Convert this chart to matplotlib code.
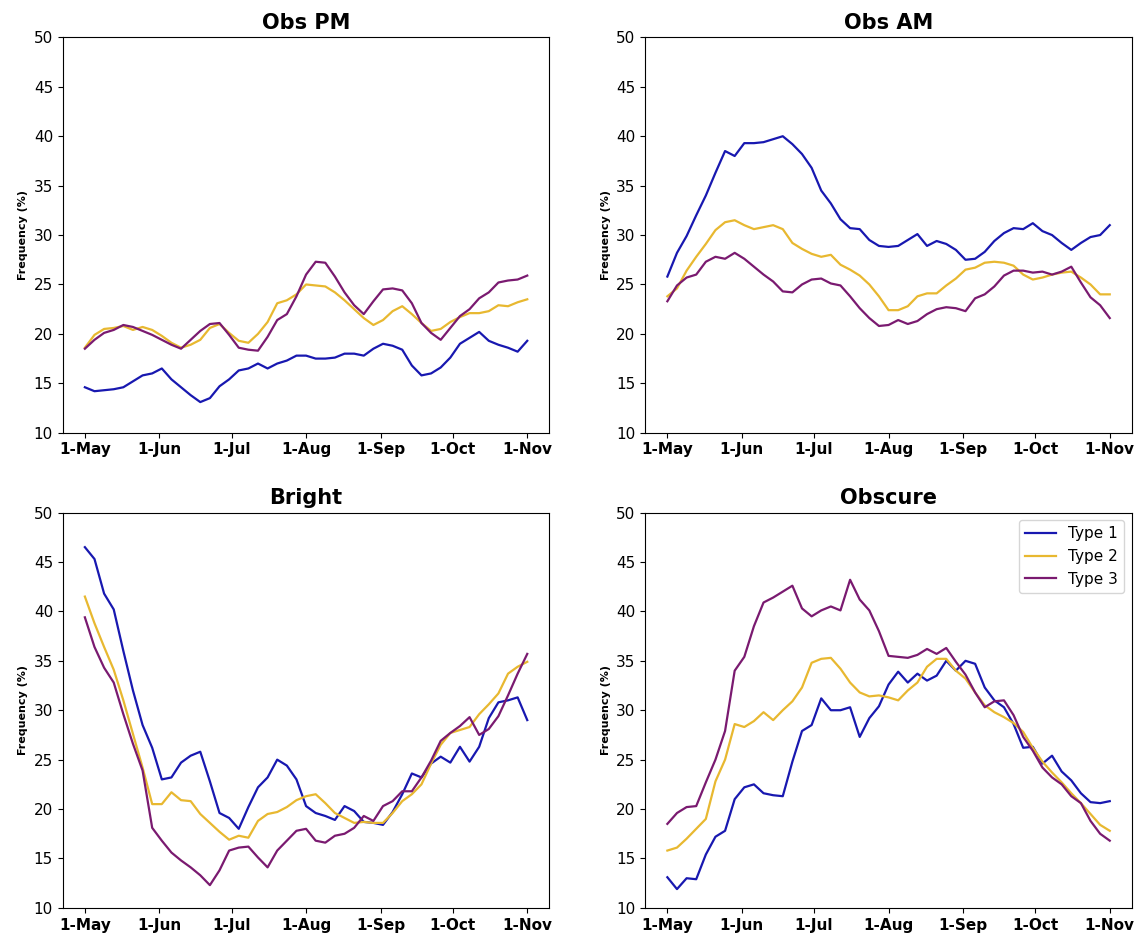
import numpy as np
import matplotlib
matplotlib.use("Agg")
import matplotlib.pyplot as plt

# days since 1 May, sampled every 4 days
days = np.arange(0, 185, 4)

tick_days = [0, 31, 61, 92, 123, 153, 184]
tick_labels = ["1-May", "1-Jun", "1-Jul", "1-Aug", "1-Sep", "1-Oct", "1-Nov"]

# --- Obs PM ---
obs_pm_t1 = [14.6, 14.2, 14.3, 14.4, 14.6, 15.2, 15.8, 16.0, 16.5, 15.4, 14.6, 13.8,
             13.1, 13.5, 14.7, 15.4, 16.3, 16.5, 17.0, 16.5, 17.0, 17.3, 17.8, 17.8,
             17.5, 17.5, 17.6, 18.0, 18.0, 17.8, 18.5, 19.0, 18.8, 18.4, 16.8, 15.8,
             16.0, 16.6, 17.6, 19.0, 19.6, 20.2, 19.3, 18.9, 18.6, 18.2, 19.3]
obs_pm_t2 = [18.6, 19.9, 20.5, 20.6, 20.8, 20.4, 20.7, 20.4, 19.8, 19.1, 18.6, 18.9,
             19.4, 20.6, 21.0, 20.1, 19.3, 19.1, 20.0, 21.2, 23.1, 23.4, 24.0, 25.0,
             24.9, 24.8, 24.2, 23.4, 22.5, 21.6, 20.9, 21.4, 22.3, 22.8, 22.0, 21.1,
             20.3, 20.5, 21.2, 21.7, 22.1, 22.1, 22.3, 22.9, 22.8, 23.2, 23.5]
obs_pm_t3 = [18.5, 19.4, 20.1, 20.4, 20.9, 20.7, 20.3, 19.9, 19.4, 18.9, 18.5, 19.4,
             20.3, 21.0, 21.1, 19.9, 18.6, 18.4, 18.3, 19.7, 21.4, 22.0, 23.8, 26.0,
             27.3, 27.2, 25.8, 24.2, 22.9, 22.0, 23.3, 24.5, 24.6, 24.4, 23.1, 21.1,
             20.1, 19.4, 20.6, 21.8, 22.5, 23.6, 24.2, 25.2, 25.4, 25.5, 25.9]

# --- Obs AM ---
obs_am_t1 = [25.8, 28.2, 29.9, 32.0, 34.0, 36.3, 38.5, 38.0, 39.3, 39.3, 39.4, 39.7,
             40.0, 39.2, 38.2, 36.8, 34.5, 33.2, 31.6, 30.7, 30.6, 29.5, 28.9, 28.8,
             28.9, 29.5, 30.1, 28.9, 29.4, 29.1, 28.5, 27.5, 27.6, 28.3, 29.4, 30.2,
             30.7, 30.6, 31.2, 30.4, 30.0, 29.2, 28.5, 29.2, 29.8, 30.0, 31.0]
obs_am_t2 = [23.8, 24.6, 26.4, 27.8, 29.1, 30.5, 31.3, 31.5, 31.0, 30.6, 30.8, 31.0,
             30.6, 29.2, 28.6, 28.1, 27.8, 28.0, 27.0, 26.5, 25.9, 25.0, 23.8, 22.4,
             22.4, 22.8, 23.8, 24.1, 24.1, 24.9, 25.6, 26.5, 26.7, 27.2, 27.3, 27.2,
             26.9, 26.0, 25.5, 25.7, 26.0, 26.2, 26.3, 25.7, 25.0, 24.0, 24.0]
obs_am_t3 = [23.3, 24.9, 25.7, 26.0, 27.3, 27.8, 27.6, 28.2, 27.6, 26.8, 26.0, 25.3,
             24.3, 24.2, 25.0, 25.5, 25.6, 25.1, 24.9, 23.8, 22.6, 21.6, 20.8, 20.9,
             21.4, 21.0, 21.3, 22.0, 22.5, 22.7, 22.6, 22.3, 23.6, 24.0, 24.8, 25.9,
             26.4, 26.4, 26.2, 26.3, 26.0, 26.3, 26.8, 25.2, 23.7, 22.9, 21.6]

# --- Bright ---
bright_t1 = [46.5, 45.3, 41.8, 40.2, 36.0, 32.0, 28.5, 26.2, 23.0, 23.2, 24.7, 25.4,
             25.8, 22.8, 19.6, 19.1, 18.0, 20.2, 22.2, 23.2, 25.0, 24.4, 23.0, 20.3,
             19.6, 19.3, 18.9, 20.3, 19.8, 18.7, 18.6, 18.4, 19.7, 21.5, 23.6, 23.2,
             24.6, 25.3, 24.7, 26.3, 24.8, 26.3, 29.2, 30.8, 31.0, 31.3, 29.0]
bright_t2 = [41.5, 38.8, 36.4, 34.1, 31.0, 27.6, 24.2, 20.5, 20.5, 21.7, 20.9, 20.8,
             19.5, 18.6, 17.7, 16.9, 17.3, 17.1, 18.8, 19.5, 19.7, 20.2, 20.9, 21.3,
             21.5, 20.6, 19.6, 19.1, 18.6, 18.7, 18.6, 18.6, 19.6, 20.8, 21.5, 22.5,
             24.6, 26.5, 27.7, 28.0, 28.3, 29.6, 30.6, 31.7, 33.7, 34.4, 34.9]
bright_t3 = [39.4, 36.4, 34.3, 32.8, 29.6, 26.6, 23.9, 18.1, 16.8, 15.6, 14.8, 14.1,
             13.3, 12.3, 13.8, 15.8, 16.1, 16.2, 15.1, 14.1, 15.8, 16.8, 17.8, 18.0,
             16.8, 16.6, 17.3, 17.5, 18.1, 19.3, 18.8, 20.3, 20.8, 21.8, 21.8, 23.2,
             24.9, 26.9, 27.7, 28.4, 29.3, 27.5, 28.1, 29.4, 31.5, 33.7, 35.7]

# --- Obscure ---
obscure_t1 = [13.1, 11.9, 13.0, 12.9, 15.4, 17.2, 17.8, 21.0, 22.2, 22.5, 21.6, 21.4,
              21.3, 24.8, 27.9, 28.5, 31.2, 30.0, 30.0, 30.3, 27.3, 29.2, 30.4, 32.6,
              33.9, 32.8, 33.7, 33.0, 33.5, 35.0, 34.0, 35.0, 34.7, 32.3, 31.0, 30.3,
              28.6, 26.2, 26.3, 24.6, 25.4, 23.8, 22.9, 21.6, 20.7, 20.6, 20.8]
obscure_t2 = [15.8, 16.1, 17.0, 18.0, 19.0, 22.8, 25.0, 28.6, 28.3, 28.9, 29.8, 29.0,
              30.0, 30.9, 32.3, 34.8, 35.2, 35.3, 34.2, 32.8, 31.8, 31.4, 31.5, 31.3,
              31.0, 32.0, 32.8, 34.4, 35.2, 35.2, 34.0, 33.2, 31.8, 30.5, 29.8, 29.3,
              28.7, 27.8, 26.2, 24.8, 23.7, 22.7, 21.6, 20.6, 19.5, 18.4, 17.8]
obscure_t3 = [18.5, 19.6, 20.2, 20.3, 22.7, 25.0, 27.9, 34.0, 35.4, 38.5, 40.9, 41.4,
              42.0, 42.6, 40.3, 39.5, 40.1, 40.5, 40.1, 43.2, 41.2, 40.1, 38.0, 35.5,
              35.4, 35.3, 35.6, 36.2, 35.7, 36.3, 34.9, 33.6, 31.8, 30.3, 30.9, 31.0,
              29.5, 27.3, 25.9, 24.2, 23.2, 22.5, 21.3, 20.6, 18.8, 17.5, 16.8]

panels = [
    ("Obs PM", [obs_pm_t1, obs_pm_t2, obs_pm_t3]),
    ("Obs AM", [obs_am_t1, obs_am_t2, obs_am_t3]),
    ("Bright", [bright_t1, bright_t2, bright_t3]),
    ("Obscure", [obscure_t1, obscure_t2, obscure_t3]),
]
type_names = ["Type 1", "Type 2", "Type 3"]
type_colors = ["#1818b0", "#e8b830", "#7a1a70"]

fig, axes = plt.subplots(2, 2, figsize=(11.41, 9.35), dpi=100)
plt.subplots_adjust(left=0.055, right=0.992, bottom=0.029, top=0.960,
                    wspace=0.197, hspace=0.202)

for ax, (title, series) in zip(axes.flat, panels):
    for vals, name, col in zip(series, type_names, type_colors):
        ax.plot(days, vals, color=col, lw=1.6, label=name)
    ax.set_ylim(10, 50)
    ax.set_yticks(np.arange(10, 51, 5))
    ax.set_xticks(tick_days)
    ax.set_xticklabels(tick_labels, fontweight="bold")
    ax.tick_params(labelsize=11)
    ax.set_title(title, fontsize=15, fontweight="bold")
    ax.set_ylabel("Frequency (%)", fontsize=8, fontweight="bold")

axes[1, 1].legend(loc="upper right", fontsize=11)

fig.savefig("out.png", dpi=100)
